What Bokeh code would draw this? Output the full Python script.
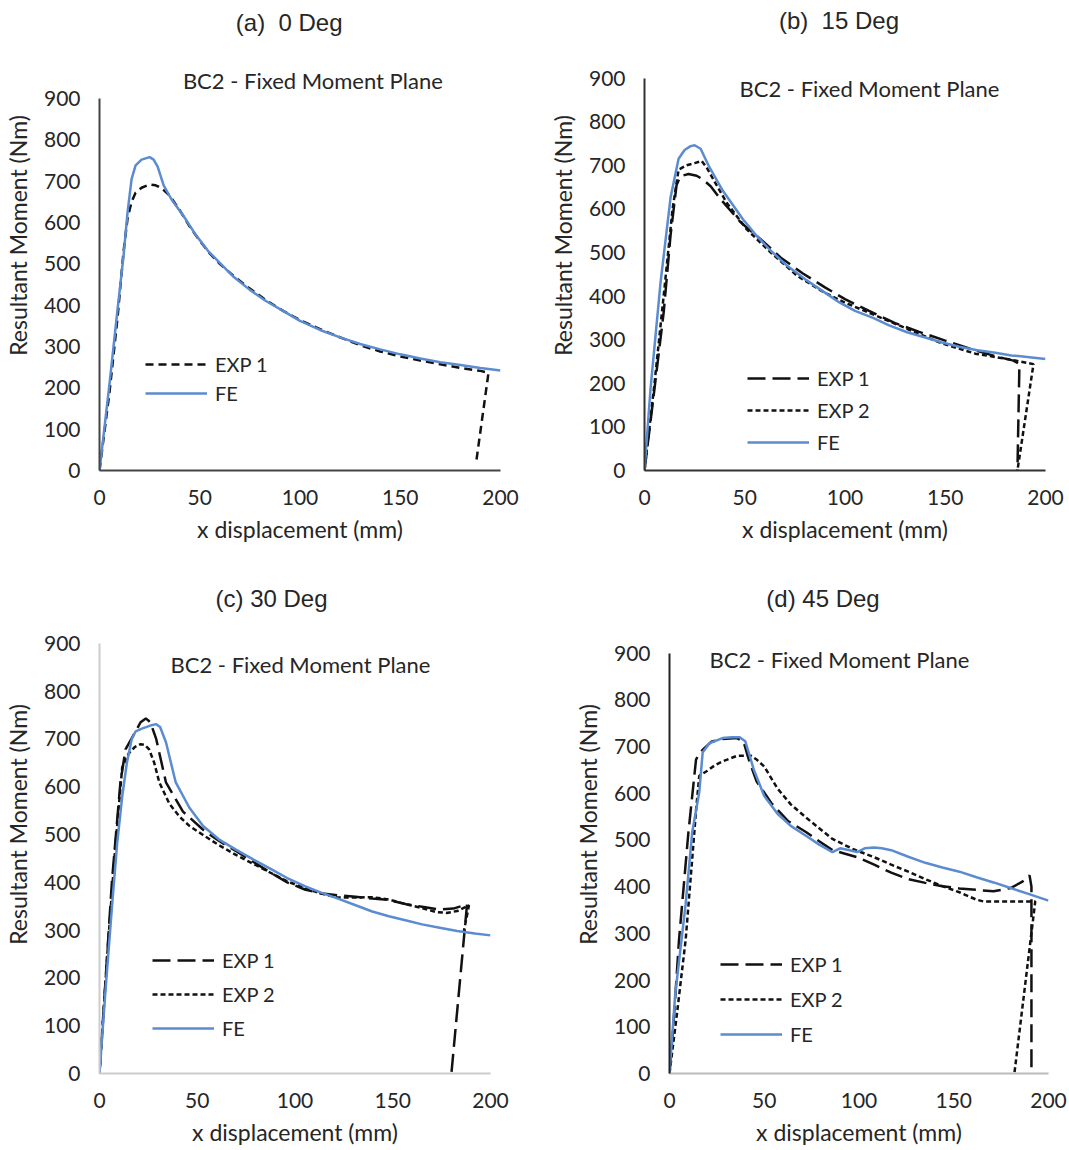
from bokeh.plotting import figure
from bokeh.layouts import column, row
from bokeh.models import Range1d, Label, Legend, LegendItem, FixedTicker
from bokeh.embed import file_html
from bokeh.resources import INLINE

# ---------------- data ----------------
x_ticks = [0, 50, 100, 150, 200]
y_ticks = [0, 100, 200, 300, 400, 500, 600, 700, 800, 900]

# (a) 0 Deg
a_exp1_x = [0, 5, 9, 12, 14, 16, 18, 21, 25, 28, 31, 35, 40, 45, 50, 55, 60, 67, 75, 83, 92, 100, 110, 120, 130, 140, 150, 160, 170, 180, 190, 194, 188]
a_exp1_y = [0, 190, 370, 530, 610, 650, 672, 684, 692, 690, 683, 665, 630, 590, 556, 525, 500, 470, 440, 412, 385, 364, 342, 322, 303, 288, 276, 266, 257, 248, 241, 236, 25]
a_fe_x = [0, 5, 9, 12, 14, 16, 18, 21, 25, 27, 29, 32, 36, 42, 48, 54, 60, 67, 75, 83, 92, 100, 110, 120, 130, 140, 150, 160, 170, 180, 190, 200]
a_fe_y = [0, 210, 390, 520, 625, 705, 738, 752, 758, 752, 735, 690, 655, 615, 570, 532, 502, 468, 437, 410, 385, 362, 340, 322, 306, 293, 281, 271, 262, 255, 248, 242]

# (b) 15 Deg
b_exp1_x = [0, 4, 9.6, 13, 16, 18, 22, 26, 29, 33, 38, 48, 59, 68, 79, 90, 100, 112, 125, 137, 150, 162, 175, 184, 187, 186]
b_exp1_y = [0, 150, 364, 540, 655, 675, 680, 676, 668, 652, 622, 569, 526, 488, 452, 420, 393, 366, 338, 318, 298, 280, 262, 252, 244, 0]
b_exp2_x = [0, 5, 10, 14, 17, 21, 25, 28.5, 31, 34.4, 41, 51, 63, 76, 89, 100, 114, 131, 148, 165, 183, 194, 186]
b_exp2_y = [0, 200, 420, 600, 690, 700, 705, 710, 695, 667, 614, 553, 500, 447, 410, 385, 358, 325, 292, 268, 254, 244, 0]
b_fe_x = [0, 3, 8, 13, 17, 20, 23, 25, 28, 32, 39, 49, 56, 63, 71, 80, 90, 97, 105, 114, 122, 131, 140, 148, 157, 166, 175, 183, 192, 200]
b_fe_y = [0, 187, 431, 626, 715, 735, 744, 746, 738, 699, 642, 577, 538, 504, 470, 439, 408, 386, 366, 350, 333, 317, 305, 294, 284, 276, 270, 264, 260, 256]

# (c) 30 Deg
c_exp1_x = [0, 3, 6.4, 10.7, 13.3, 18.5, 21, 23.7, 26, 29, 34, 42.7, 53, 61, 70, 79, 88, 96, 105, 113, 122, 131, 139.5, 148, 157, 165, 174, 181, 188, 180]
c_exp1_y = [0, 190, 404, 609, 678, 716, 735, 743, 735, 700, 609, 548, 510, 487, 465, 442, 419, 400, 385, 377, 373, 370, 366, 363, 354, 349, 343, 345, 354, 0]
c_exp2_x = [0, 4, 8, 11.6, 15, 18, 21, 23, 25.4, 28, 30.6, 35.8, 41, 46, 53, 61, 70, 79, 88, 96, 105, 113, 122, 131, 139.5, 148, 157, 165, 172, 177.5, 183, 189, 186]
c_exp2_y = [0, 250, 470, 640, 670, 683, 689, 688, 678, 650, 609, 564, 537, 518, 499, 478, 457, 438, 419, 402, 388, 377, 368, 368, 369, 364, 354, 346, 338, 336, 340, 352, 290]
c_fe_x = [0, 3, 6.4, 9, 11.6, 14, 16.5, 18.5, 22, 26, 29, 31, 34, 39, 46, 53, 61, 70, 79, 88, 96, 105, 113, 122, 131, 139.5, 148, 157, 165, 174, 183, 192, 200]
c_fe_y = [0, 170, 350, 480, 579, 650, 700, 716, 722, 728, 731, 725, 693, 609, 556, 518, 490, 468, 447, 427, 409, 392, 379, 366, 352, 339, 329, 320, 312, 305, 298, 293, 289]

# (d) 45 Deg
d_exp1_x = [0, 2, 5, 10, 14, 15.7, 18, 22, 28, 35.6, 39, 42, 46, 53.7, 62.7, 72, 79, 86, 99, 108, 117, 126, 135, 144, 153, 162, 171, 180, 186, 190, 191, 191]
d_exp1_y = [0, 100, 285, 517, 672, 685, 695, 710, 716, 718, 711, 670, 625, 579, 540, 517, 497, 478, 463, 447, 430, 416, 408, 401, 396, 393, 390, 397, 410, 424, 400, 0]
d_exp2_x = [0, 4, 8.5, 12, 14, 15.7, 20, 24, 28, 35.6, 43, 46, 50, 57, 64, 72, 79, 86, 97, 108, 117, 126, 135, 144, 153, 162, 166, 175, 184, 193, 182]
d_exp2_y = [0, 130, 285, 460, 563, 637, 648, 660, 668, 680, 680, 672, 657, 610, 576, 548, 525, 502, 480, 463, 447, 432, 416, 401, 388, 372, 368, 368, 368, 368, 0]
d_fe_x = [0, 3, 8.5, 12, 15.7, 17.5, 21, 28, 33, 37, 40, 44.6, 50, 57, 64, 72, 79, 86, 90, 95, 99, 103, 108, 112, 117, 126, 135, 144, 153, 162, 171, 180, 189, 200]
d_fe_y = [0, 169, 362, 517, 602, 687, 707, 718, 720, 720, 711, 649, 594, 556, 530, 509, 490, 474, 482, 478, 474, 482, 484, 482, 478, 464, 451, 441, 432, 420, 409, 397, 385, 370]

panel_titles = ["(a)\u00a0 0 Deg", "(b)\u00a0 15 Deg", "(c) 30 Deg", "(d) 45 Deg"]
inner_title = "BC2 - Fixed Moment Plane"
x_label = "x displacement (mm)"
y_label = "Resultant Moment (Nm)"

# ---------------- styling ----------------
FE_COLOR = "#5B8BD0"
EXP_COLOR = "#111111"
TICK_FONT = "Lato"
TITLE_FONT = "Liberation Sans"
TXT = "#262626"


def make_panel(width, height, borders, y_top, ycol, xcol, ptitle, ptitle_xy, ititle_xy,
               series, leg_loc, leg_spacing):
    bl, br, bb = borders
    p = figure(width=width, height=height, x_range=Range1d(0, 200), y_range=Range1d(0, y_top),
               output_backend="svg", toolbar_location=None,
               min_border_left=bl, min_border_right=br, min_border_top=0, min_border_bottom=bb)
    p.grid.visible = False
    p.outline_line_color = None
    p.background_fill_color = "white"
    p.border_fill_color = "white"

    p.xaxis.ticker = FixedTicker(ticks=x_ticks)
    p.yaxis.ticker = FixedTicker(ticks=y_ticks)
    p.yaxis.bounds = (0, 900)
    for ax, col in ((p.xaxis, xcol), (p.yaxis, ycol)):
        ax.axis_line_color = col
        ax.axis_line_width = 2
        ax.major_tick_line_color = None
        ax.minor_tick_line_color = None
        ax.major_label_text_font = TICK_FONT
        ax.major_label_text_font_size = "21px"
        ax.major_label_text_color = TXT
        ax.axis_label_text_font = TICK_FONT
        ax.axis_label_text_font_size = "23px"
        ax.axis_label_text_font_style = "normal"
        ax.axis_label_text_color = TXT
    p.xaxis.axis_label = x_label
    p.yaxis.axis_label = y_label
    p.xaxis.major_label_standoff = 13
    p.xaxis.axis_label_standoff = 7
    p.yaxis.major_label_standoff = 13
    p.yaxis.axis_label_standoff = 9

    items = []
    for name, xs, ys, dash, color in series:
        r = p.line(xs, ys, line_color=color, line_width=2.5, line_dash=dash)
        items.append(LegendItem(label=name, renderers=[r]))
    leg = Legend(items=items, location=leg_loc, padding=0, margin=0, spacing=leg_spacing,
                 glyph_width=62, glyph_height=20, label_height=20, label_standoff=8,
                 border_line_color=None, background_fill_alpha=0,
                 label_text_font=TICK_FONT, label_text_font_size="20px", label_text_color=TXT)
    p.add_layout(leg, "center")

    p.add_layout(Label(x=ptitle_xy[0], y=ptitle_xy[1], text=ptitle, text_align="center",
                       text_baseline="middle", text_font=TITLE_FONT, text_font_size="24px",
                       text_color=TXT))
    p.add_layout(Label(x=ititle_xy[0], y=ititle_xy[1], text=inner_title, text_align="center",
                       text_baseline="middle", text_font=TICK_FONT, text_font_size="22px",
                       text_color=TXT))
    return p


DASH_A = "8 5"
DASH_L = "18 7"
DASH_S = "5 3"

pa = make_panel(535, 575, (94, 35, 105), 1137, "#444444", "#444444", panel_titles[0], (94.6, 1084), (106.4, 943),
                [("EXP 1", a_exp1_x, a_exp1_y, DASH_A, EXP_COLOR),
                 ("FE", a_fe_x, a_fe_y, "solid", FE_COLOR)], (46, 65), 5)
pb = make_panel(534, 575, (109, 24, 102), 1078, "#333333", "#333333", panel_titles[1], (97, 1032), (112.2, 877),
                [("EXP 1", b_exp1_x, b_exp1_y, DASH_L, EXP_COLOR),
                 ("EXP 2", b_exp2_x, b_exp2_y, DASH_S, EXP_COLOR),
                 ("FE", b_fe_x, b_fe_y, "solid", FE_COLOR)], (103, 16), 8)
pc = make_panel(535, 575, (99, 45, 77), 1042, "#cccccc", "#cccccc", panel_titles[2], (88, 994), (102.8, 856),
                [("EXP 1", c_exp1_x, c_exp1_y, DASH_L, EXP_COLOR),
                 ("EXP 2", c_exp2_x, c_exp2_y, DASH_S, EXP_COLOR),
                 ("FE", c_fe_x, c_fe_y, "solid", FE_COLOR)], (53, 33), 10)
pd = make_panel(534, 575, (134, 21, 73), 1066, "#222222", "#bbbbbb", panel_titles[3], (81, 1017), (89.7, 887),
                [("EXP 1", d_exp1_x, d_exp1_y, DASH_L, EXP_COLOR),
                 ("EXP 2", d_exp2_x, d_exp2_y, DASH_S, EXP_COLOR),
                 ("FE", d_fe_x, d_fe_y, "solid", FE_COLOR)], (51, 27), 11)

layout = column(row(pa, pb), row(pc, pd))
open("out.html", "w").write(file_html(layout, INLINE))
